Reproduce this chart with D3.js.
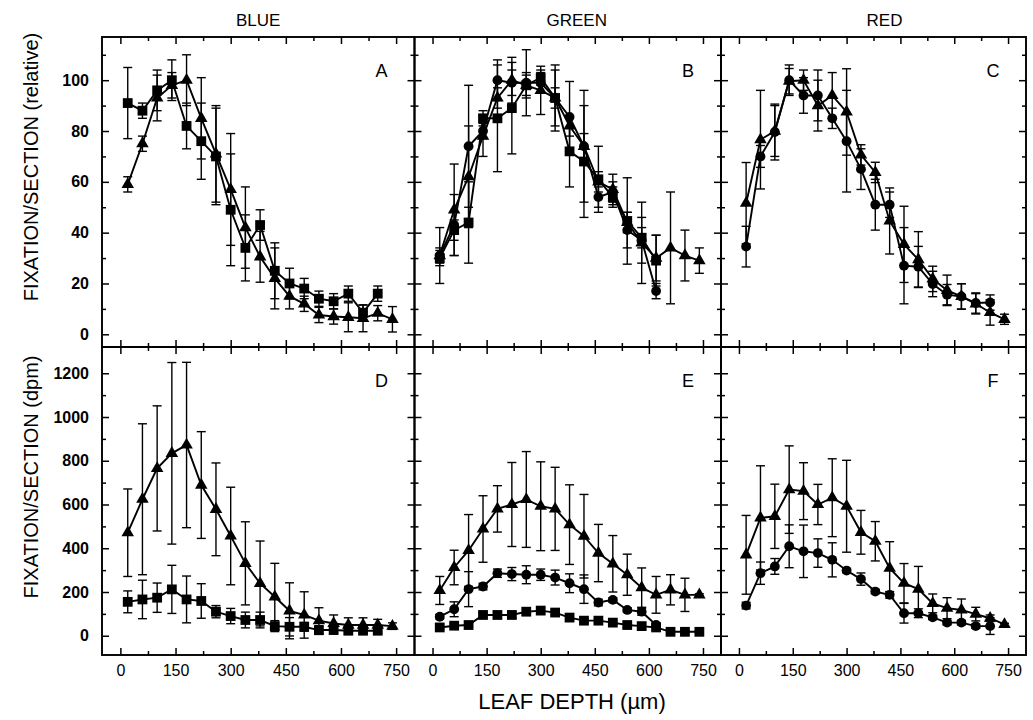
<!DOCTYPE html>
<html>
<head>
<meta charset="utf-8">
<script src="https://cdn.jsdelivr.net/npm/d3@7"></script>
<style>
  body { margin: 0; background: #fff; }
  text { fill: #000; }
</style>
</head>
<body>
<div id="chart"></div>
<script>
// leaf depth of each section (um)
const depths = [20, 60, 100, 140, 180, 220, 260, 300, 340, 380, 420, 460, 500, 540, 580, 620, 660, 700, 740];

const colTitles = ["BLUE", "GREEN", "RED"];
const panelLetters = ["A", "B", "C", "D", "E", "F"];
const xTicks = [0, 150, 300, 450, 600, 750];
const xMinorTicks = [75, 225, 375, 525, 675];
const yTicksTop = [0, 20, 40, 60, 80, 100];
const yMinorTop = [10, 30, 50, 70, 90, 110];
const yTicksBottom = [0, 200, 400, 600, 800, 1000, 1200];
const yMinorBottom = [100, 300, 500, 700, 900, 1100];

// A - blue, relative
const aSquare = [91, 88, 96, 100, 82, 76, 70, 49, 34, 43, 25, 20, 18, 14, 13, 16, 8.5, 16, null];
const aSquareErr = [14, 3, 8, 8, 9, 15, 19, 22, 13, 6, 11, 6, 4, 3, 3, 3, 3, 3, null];
const aTriangle = [59, 75, 93, 98, 100, 85, 71, 57, 42, 30.5, 22, 15, 12, 7.6, 7, 6.7, 6.3, 8.3, 5.9];
const aTriangleErr = [3, 3, 9, 5, 10, 16, 19, 22, 16, 10, 12, 5, 3, 3, 3, 5.7, 5.3, 3, 5];

// B - green, relative
const bCircle = [31, 43, 74, 80, 100, 99, 99, 99, 93, 85.5, 74, 54, 56, 41, 37, 17, null, null, null];
const bCircleErr = [11, 12, 24, 3, 8, 5, 13, 4, 13, 14, 22, 4, 4, 7, 9, 3, null, null, null];
const bTriangle = [31, 49, 62, 78, 93, 100, 98, 96, 93, 82, 74, 60, 57, 44, 36, 30, 34, 31, 29];
const bTriangleErr = [3, 18, 20, 8, 4, 9, 5, 9.5, 11, 4, 5, 4, 6, 4, 16, 9, 22, 10, 5];
const bSquare = [30, 41, 44, 85, 85, 89, 98, 101, 93, 72, 68, 61, 54, 44.6, 38, 29, null, null, null];
const bSquareErr = [3, 4, 16, 3, 21, 18, 4, 3, 4, 14, 22, 13, 4, 17, 4, 10, null, null, null];

// C - red, relative
const cCircle = [34.5, 70, 79.6, 100, 94, 94, 85, 76, 65, 51, 51, 27, 26.6, 19.8, 15.6, 14.9, 12.3, 12.5, null];
const cCircleErr = [8, 4.3, 11, 6, 7, 10, 4, 20, 8, 10, 5, 15, 8, 5, 4, 5, 4, 3, null];
const cTriangle = [51.6, 76.6, 80, 99.6, 100, 90, 94, 87.5, 70.6, 63.7, 44.6, 35.4, 29.4, 21.8, 17.3, 14.9, 12, 8.6, 5.9];
const cTriangleErr = [16, 19.4, 10, 5, 4, 10, 9, 17, 4, 4, 13, 15, 11, 5, 6, 5, 4, 5, 2];

// D - blue, dpm
const dTriangle = [471, 624, 765, 834, 872, 689, 578, 456, 331, 239, 178, 114, 95, 69, 56, 49, 49, 49, 44];
const dTriangleErr = [200, 345, 286, 415, 378, 244, 212, 223, 190, 194, 153, 128, 106, 59, 39, 33, 33, 26, 15];
const dSquare = [155, 166, 174, 212, 166, 159, 110, 90, 72, 72, 44, 41, 41, 26, 26, 23, 23, 23, null];
const dSquareErr = [50, 88, 67, 110, 107, 79, 28, 35, 36, 36, 25, 42, 20, 20, 15, 15, 12, 12, null];

// E - green, dpm
const eTriangle = [207, 312, 390, 488, 580, 600, 623, 592, 580, 508, 455, 378, 329, 279, 220, 187, 210, 187, 187];
const eTriangleErr = [64, 79, 164, 152, 106, 192, 219, 203, 190, 182, 191, 131, 129, 94, 90, 84, 69, 76, 5];
const eCircle = [87, 121, 213, 225, 286, 282, 279, 279, 266, 240, 213, 152, 164, 118, 110, 49, null, null, null];
const eCircleErr = [10, 34, 80, 15, 19, 30, 41, 26, 34, 43, 65, 15, 10, 10, 16, 10, null, null, null];
const eSquare = [38, 46, 49, 95, 95, 95, 110, 115, 106, 83, 69, 69, 60, 49, 44, 38, 18, 18, 18];
const eSquareErr = [8, 8, 8, 12, 15, 15, 15, 12, 10, 8, 8, 10, 10, 12, 15, 10, 5, 5, 5];

// F - red, dpm
const fTriangle = [370, 539, 546, 668, 661, 600, 631, 592, 473, 432, 309, 240, 213, 148, 126, 118, 99, 80, 52];
const fTriangleErr = [180, 238, 147, 200, 130, 92, 178, 210, 100, 90, 121, 90, 104, 43, 48, 50, 31, 15, 5];
const fCircle = [138, 286, 317, 409, 386, 378, 347, 298, 259, 202, 187, 103, 103, 84, 60, 60, 44, 44, null];
const fCircleErr = [15, 51, 36, 98, 120, 65, 78, 10, 28, 10, 15, 45, 20, 10, 10, 10, 10, 38, null];

const panels = [
  { row: 0, col: 0, series: [["square", aSquare, aSquareErr], ["triangle", aTriangle, aTriangleErr]] },
  { row: 0, col: 1, series: [["circle", bCircle, bCircleErr], ["triangle", bTriangle, bTriangleErr], ["square", bSquare, bSquareErr]] },
  { row: 0, col: 2, series: [["circle", cCircle, cCircleErr], ["triangle", cTriangle, cTriangleErr]] },
  { row: 1, col: 0, series: [["square", dSquare, dSquareErr], ["triangle", dTriangle, dTriangleErr]] },
  { row: 1, col: 1, series: [["square", eSquare, eSquareErr], ["circle", eCircle, eCircleErr], ["triangle", eTriangle, eTriangleErr]] },
  { row: 1, col: 2, series: [["circle", fCircle, fCircleErr], ["triangle", fTriangle, fTriangleErr]] }
];

//layout
const width = 1033, height = 720;
const colEdges = [102, 414.5, 721, 1026];
const rowEdges = [37, 347, 655];
const titleShift = [0, 9, 11];

const symbols = {
  square: d3.symbol(d3.symbolSquare, 96),
  triangle: d3.symbol(d3.symbolTriangle, 68),
  circle: d3.symbol(d3.symbolCircle, 76)
};

const svg = d3.select("#chart").append("svg")
  .attr("width", width)
  .attr("height", height)
  .style("font-family", "'Liberation Sans', Arial, sans-serif");

panels.forEach((p, i) => {
  const x = d3.scaleLinear().domain([-50, 800]).range([colEdges[p.col], colEdges[p.col + 1]]);
  const y = d3.scaleLinear()
    .domain(p.row === 0 ? [-5, 117] : [-88, 1320])
    .range([rowEdges[p.row + 1], rowEdges[p.row]]);
  const x0 = colEdges[p.col], x1 = colEdges[p.col + 1];
  const y0 = rowEdges[p.row + 1], y1 = rowEdges[p.row];
  const major = p.row === 0 ? yTicksTop : yTicksBottom;
  const minor = p.row === 0 ? yMinorTop : yMinorBottom;

  const g = svg.append("g");

  const clean = sel => {
    sel.select(".domain").remove();
    sel.selectAll(".tick line").attr("stroke", "#000").attr("stroke-width", 1.5);
  };

  // x axes (inward ticks)
  g.append("g").attr("transform", `translate(0,${y0})`)
    .call(d3.axisBottom(x).tickValues(xTicks).tickSize(-7).tickPadding(10)
      .tickFormat(p.row === 1 ? d3.format("d") : ""))
    .call(clean)
    .selectAll("text").style("font-size", "16px");
  g.append("g").attr("transform", `translate(0,${y0})`)
    .call(d3.axisBottom(x).tickValues(xMinorTicks).tickSize(-4).tickFormat(""))
    .call(clean);
  g.append("g").attr("transform", `translate(0,${y1})`)
    .call(d3.axisTop(x).tickValues(xTicks).tickSize(-7).tickFormat(""))
    .call(clean);
  g.append("g").attr("transform", `translate(0,${y1})`)
    .call(d3.axisTop(x).tickValues(xMinorTicks).tickSize(-4).tickFormat(""))
    .call(clean);

  // y axes
  g.append("g").attr("transform", `translate(${x0},0)`)
    .call(d3.axisLeft(y).tickValues(major).tickSize(-7).tickPadding(13)
      .tickFormat(p.col === 0 ? d3.format("d") : ""))
    .call(clean)
    .selectAll("text").style("font-size", "16px").style("font-weight", "bold");
  g.append("g").attr("transform", `translate(${x0},0)`)
    .call(d3.axisLeft(y).tickValues(minor).tickSize(-4).tickFormat(""))
    .call(clean);
  g.append("g").attr("transform", `translate(${x1},0)`)
    .call(d3.axisRight(y).tickValues(major).tickSize(-7).tickFormat(""))
    .call(clean);
  g.append("g").attr("transform", `translate(${x1},0)`)
    .call(d3.axisRight(y).tickValues(minor).tickSize(-4).tickFormat(""))
    .call(clean);

  // frame
  g.append("rect")
    .attr("x", x0).attr("y", y1)
    .attr("width", x1 - x0).attr("height", y0 - y1)
    .attr("fill", "none").attr("stroke", "#000").attr("stroke-width", 1.9);

  // panel letter
  g.append("text")
    .attr("x", x1 - 33).attr("y", y1 + 40)
    .attr("text-anchor", "middle")
    .style("font-size", "18px")
    .text(panelLetters[i]);

  const line = d3.line()
    .defined(d => d.v != null)
    .x(d => x(d.depth))
    .y(d => y(d.v));

  p.series.forEach(([shape, vals, errs]) => {
    const pts = depths.map((depth, k) => ({ depth, v: vals[k], e: errs[k] }));
    const valid = pts.filter(d => d.v != null);

    g.append("path")
      .datum(pts)
      .attr("d", line)
      .attr("fill", "none")
      .attr("stroke", "#000")
      .attr("stroke-width", 1.9);

    // error bars
    const eb = g.append("g").attr("stroke", "#000").attr("stroke-width", 1.4);
    valid.filter(d => d.e).forEach(d => {
      const cx = x(d.depth);
      eb.append("line").attr("x1", cx).attr("x2", cx)
        .attr("y1", y(d.v - d.e)).attr("y2", y(d.v + d.e));
      [d.v - d.e, d.v + d.e].forEach(val => {
        eb.append("line").attr("x1", cx - 4.5).attr("x2", cx + 4.5)
          .attr("y1", y(val)).attr("y2", y(val));
      });
    });

    g.append("g").selectAll("path")
      .data(valid)
      .join("path")
      .attr("d", symbols[shape])
      .attr("transform", d => `translate(${x(d.depth)},${y(d.v)})`)
      .attr("fill", "#000");
  });

  // column titles
  if (p.row === 0) {
    svg.append("text")
      .attr("x", x(375) + titleShift[p.col]).attr("y", 26)
      .attr("text-anchor", "middle")
      .style("font-size", "17px")
      .text(colTitles[p.col]);
  }
});

// axis titles
svg.append("text")
  .attr("transform", "translate(38,167) rotate(-90)")
  .attr("text-anchor", "middle")
  .style("font-size", "20px")
  .text("FIXATION/SECTION (relative)");

svg.append("text")
  .attr("transform", "translate(38,477) rotate(-90)")
  .attr("text-anchor", "middle")
  .style("font-size", "20px")
  .text("FIXATION/SECTION (dpm)");

svg.append("text")
  .attr("x", 572).attr("y", 709)
  .attr("text-anchor", "middle")
  .style("font-size", "22px")
  .text("LEAF DEPTH (\u00b5m)");
</script>
</body>
</html>
